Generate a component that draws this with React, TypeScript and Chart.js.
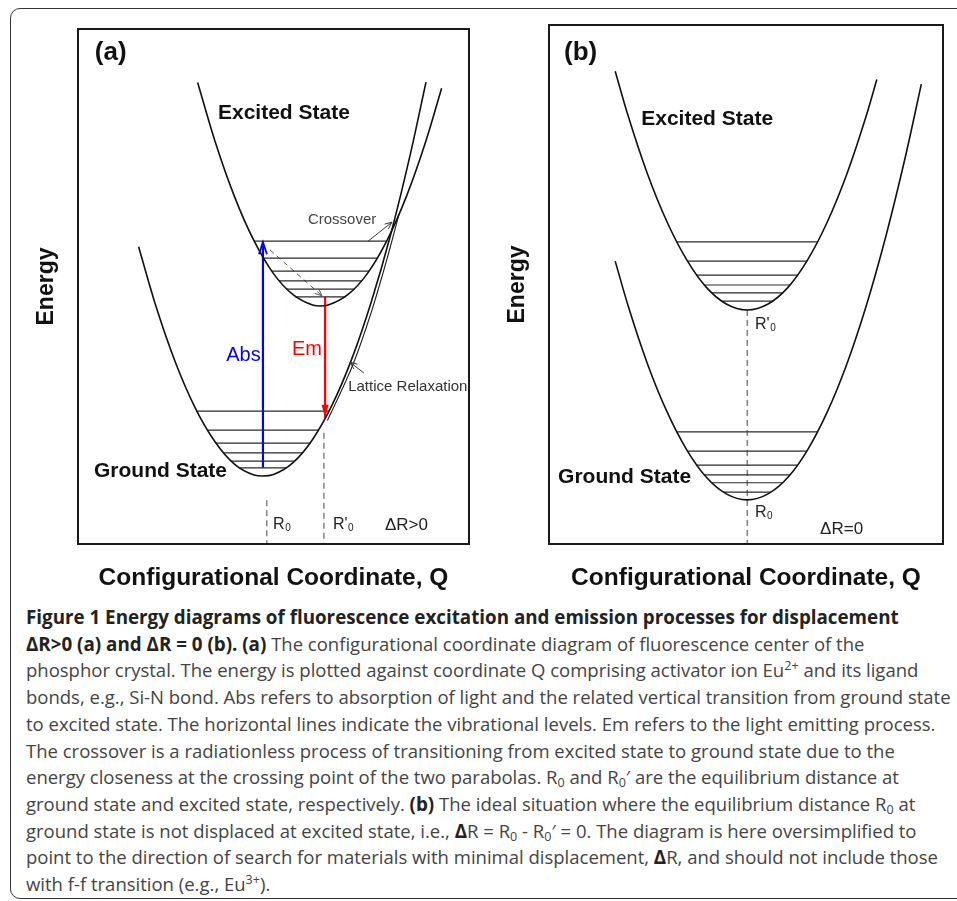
import React, { useEffect, useRef } from "react";
import { Chart, registerables } from "chart.js";

Chart.register(...registerables);

const FIG_FONT = '"Liberation Sans", Arial, Helvetica, sans-serif';
const CAPTION_FONT = '"Open Sans", "Noto Sans", sans-serif';

// ---------- Panel (a): displaced parabolas, ΔR > 0 ----------
const groundAQ = [1.55, 2.0, 2.5, 3.0, 3.5, 4.0, 4.5, 4.73, 5.0, 5.5, 6.0, 6.5, 7.0, 7.5, 8.0, 8.5, 8.9];
const groundAE = [5.77, 4.6, 3.51, 2.64, 1.99, 1.55, 1.34, 1.32, 1.35, 1.58, 2.03, 2.7, 3.59, 4.7, 6.02, 7.57, 8.97];
const excitedAQ = [3.06, 3.5, 4.0, 4.5, 5.0, 5.5, 6.0, 6.2, 6.4, 6.9, 7.4, 7.9, 8.4, 8.9, 9.3];
const excitedAE = [8.96, 7.83, 6.75, 5.89, 5.25, 4.84, 4.64, 4.62, 4.64, 4.84, 5.25, 5.89, 6.75, 7.83, 8.85];
const latticeAQ = [6.38, 7.04, 7.5, 7.89, 8.21];
const latticeAE = [2.4, 3.5, 4.5, 5.5, 6.4];

const excitedLevelsA = [5.88, 5.55, 5.3, 5.11, 4.95, 4.8];
const excitedLevelsALeft = [4.51, 4.75, 4.96, 5.14, 5.33, 5.56];
const excitedLevelsARight = [7.89, 7.65, 7.44, 7.26, 7.07, 6.84];
const groundLevelsA = [2.58, 2.21, 1.96, 1.77, 1.61, 1.48];
const groundLevelsALeft = [3.04, 3.31, 3.52, 3.72, 3.92, 4.13];
const groundLevelsARight = [6.42, 6.15, 5.94, 5.74, 5.54, 5.33];

// transitions: [Q, E start, E end]
const absorptionA = [4.73, 1.48, 5.86];
const emissionA = [6.32, 4.8, 2.45];
const relaxQ = [4.91, 6.24];
const relaxE = [5.71, 4.82];
const r0A = [4.83, 0.85];
const r0PrimeA = [6.29, 2.16];

// ---------- Panel (b): undisplaced parabolas, ΔR = 0 ----------
const groundBQ = [1.68, 2.0, 2.5, 3.0, 3.5, 4.0, 4.5, 5.03, 5.56, 6.06, 6.56, 7.06, 7.56, 8.06, 8.56, 9.06, 9.45];
const groundBE = [5.45, 4.61, 3.47, 2.54, 1.81, 1.28, 0.965, 0.85, 0.965, 1.28, 1.81, 2.54, 3.47, 4.61, 5.96, 7.51, 8.86];
const excitedBQ = [1.68, 2.0, 2.5, 3.0, 3.5, 4.0, 4.5, 5.03, 5.56, 6.06, 6.56, 7.06, 7.56, 8.06, 8.32];
const excitedBE = [9.11, 8.27, 7.13, 6.2, 5.47, 4.94, 4.625, 4.51, 4.625, 4.94, 5.47, 6.2, 7.13, 8.27, 8.95];

const excitedLevelsB = [5.82, 5.45, 5.18, 4.99, 4.84, 4.68];
const excitedLevelsBLeft = [3.24, 3.52, 3.75, 3.95, 4.13, 4.39];
const excitedLevelsBRight = [6.82, 6.54, 6.31, 6.11, 5.93, 5.67];
const groundLevelsB = [2.16, 1.79, 1.52, 1.33, 1.18, 1.0];
const groundLevelsBLeft = [3.24, 3.52, 3.75, 3.95, 4.13, 4.43];
const groundLevelsBRight = [6.82, 6.54, 6.31, 6.11, 5.93, 5.63];
const r0B = [5.03, 4.51];

type XY = { x: number; y: number };
const pts = (qs: number[], es: number[]): XY[] => qs.map((q, i) => ({ x: q, y: es[i] }));

const curveStyle = {
  showLine: true,
  pointRadius: 0,
  borderColor: "#111",
  borderWidth: 1.6,
  cubicInterpolationMode: "monotone",
  fill: false,
};
const levelStyle = { showLine: true, pointRadius: 0, borderColor: "#2a2a2a", borderWidth: 1.2, tension: 0, fill: false };
const guideStyle = { showLine: true, pointRadius: 0, borderColor: "#444", borderWidth: 1, borderDash: [6, 4], tension: 0, fill: false };

const levelSets = (es: number[], lq: number[], rq: number[]) =>
  es.map((e, i) => ({ ...levelStyle, data: [{ x: lq[i], y: e }, { x: rq[i], y: e }] }));

interface TextMark {
  text: string;
  sub?: string;
  q: number;
  e: number;
  size: number;
  weight?: string;
  color?: string;
}

const framePlugin = {
  id: "frame",
  afterDraw(chart: any) {
    const { ctx, chartArea: a } = chart;
    ctx.save();
    ctx.strokeStyle = "#1a1a1a";
    ctx.lineWidth = 2;
    ctx.strokeRect(a.left, a.top, a.right - a.left, a.bottom - a.top);
    ctx.restore();
  },
};

// draws a head at the last point of any dataset carrying an `arrow` spec
const arrowPlugin = {
  id: "arrowHeads",
  afterDatasetsDraw(chart: any) {
    const ctx = chart.ctx;
    chart.data.datasets.forEach((ds: any, i: number) => {
      if (!ds.arrow) return;
      const meta = chart.getDatasetMeta(i);
      const n = meta.data.length;
      const p1 = meta.data[n - 2];
      const p2 = meta.data[n - 1];
      const ang = Math.atan2(p2.y - p1.y, p2.x - p1.x);
      const { len, half, filled } = ds.arrow;
      const bx = p2.x - len * Math.cos(ang);
      const by = p2.y - len * Math.sin(ang);
      const nx = -Math.sin(ang) * half;
      const ny = Math.cos(ang) * half;
      ctx.save();
      ctx.setLineDash([]);
      ctx.strokeStyle = ds.borderColor;
      ctx.fillStyle = ds.borderColor;
      ctx.lineWidth = ds.arrow.width ?? ds.borderWidth;
      ctx.beginPath();
      ctx.moveTo(bx + nx, by + ny);
      ctx.lineTo(p2.x, p2.y);
      ctx.lineTo(bx - nx, by - ny);
      if (filled) {
        ctx.closePath();
        ctx.fill();
      } else {
        ctx.stroke();
      }
      ctx.restore();
    });
  },
};

const makeLabelPlugin = (items: TextMark[]) => ({
  id: "textMarks",
  afterDatasetsDraw(chart: any) {
    const ctx = chart.ctx;
    const xs = chart.scales.x;
    const ys = chart.scales.y;
    ctx.save();
    ctx.textBaseline = "middle";
    ctx.textAlign = "left";
    items.forEach((t) => {
      const px = xs.getPixelForValue(t.q);
      const py = ys.getPixelForValue(t.e);
      ctx.font = `${t.weight || "normal"} ${t.size}px ${FIG_FONT}`;
      ctx.fillStyle = t.color || "#111";
      ctx.fillText(t.text, px, py);
      if (t.sub) {
        const w = ctx.measureText(t.text).width;
        ctx.font = `${Math.round(t.size * 0.62)}px ${FIG_FONT}`;
        ctx.fillText(t.sub, px + w + 0.5, py + t.size * 0.2);
      }
    });
    ctx.restore();
  },
});

interface PanelProps {
  left: number;
  width: number;
  height: number;
  padding: { left: number; right: number; top: number; bottom: number };
  datasets: any[];
  labels: TextMark[];
}

function Panel({ left, width, height, padding, datasets, labels }: PanelProps) {
  const ref = useRef<HTMLCanvasElement | null>(null);
  useEffect(() => {
    if (!ref.current) return;
    const chart = new Chart(ref.current, {
      type: "scatter",
      data: { datasets },
      options: {
        animation: false,
        responsive: false,
        devicePixelRatio: 1,
        events: [],
        layout: { padding },
        plugins: { legend: { display: false }, tooltip: { enabled: false } },
        scales: {
          x: {
            type: "linear",
            min: 0,
            max: 10,
            ticks: { display: false },
            grid: { display: false, drawTicks: false },
            border: { display: false },
            title: {
              display: true,
              text: "Configurational Coordinate, Q",
              color: "#111",
              font: { family: FIG_FONT, size: 24.5, weight: "bold" },
              padding: { top: 19.3, bottom: 0 },
            },
          },
          y: {
            type: "linear",
            min: 0,
            max: 10,
            ticks: { display: false },
            grid: { display: false, drawTicks: false },
            border: { display: false },
            title: {
              display: true,
              text: "Energy",
              color: "#111",
              font: { family: FIG_FONT, size: 23, weight: "bold" },
              padding: { top: 0, bottom: 17.2 },
            },
          },
        },
      } as any,
      plugins: [framePlugin, arrowPlugin, makeLabelPlugin(labels)],
    });
    return () => chart.destroy();
  }, []);
  return (
    <canvas
      ref={ref}
      width={width}
      height={height}
      style={{ position: "absolute", left, top: 0, width, height }}
    />
  );
}

const datasetsA = [
  { ...curveStyle, data: pts(groundAQ, groundAE) },
  { ...curveStyle, data: pts(excitedAQ, excitedAE) },
  { ...curveStyle, borderWidth: 1.1, borderColor: "#222", data: pts(latticeAQ, latticeAE) },
  ...levelSets(excitedLevelsA, excitedLevelsALeft, excitedLevelsARight),
  ...levelSets(groundLevelsA, groundLevelsALeft, groundLevelsARight),
  {
    showLine: true,
    pointRadius: 0,
    borderColor: "#0000ff",
    borderWidth: 2.2,
    data: [{ x: absorptionA[0], y: absorptionA[1] }, { x: absorptionA[0], y: absorptionA[2] }],
    arrow: { len: 12, half: 4, filled: false, width: 1.8 },
  },
  {
    showLine: true,
    pointRadius: 0,
    borderColor: "#ff0000",
    borderWidth: 2.2,
    data: [{ x: emissionA[0], y: emissionA[1] }, { x: emissionA[0], y: emissionA[2] }],
    arrow: { len: 13, half: 3.5, filled: true },
  },
  {
    ...guideStyle,
    borderColor: "#555",
    borderDash: [5, 4],
    data: pts(relaxQ, relaxE),
    arrow: { len: 7, half: 3, filled: false },
  },
  { ...guideStyle, data: [{ x: r0A[0], y: r0A[1] }, { x: r0A[0], y: 0 }] },
  { ...guideStyle, data: [{ x: r0PrimeA[0], y: r0PrimeA[1] }, { x: r0PrimeA[0], y: 0 }] },
  {
    showLine: true,
    pointRadius: 0,
    borderColor: "#333",
    borderWidth: 1,
    data: [{ x: 7.42, y: 5.88 }, { x: 8.03, y: 6.25 }],
    arrow: { len: 7, half: 3, filled: false },
  },
  {
    showLine: true,
    pointRadius: 0,
    borderColor: "#333",
    borderWidth: 1,
    data: [{ x: 7.31, y: 3.32 }, { x: 6.96, y: 3.53 }],
    arrow: { len: 7, half: 3, filled: false },
  },
];

const labelsA: TextMark[] = [
  { text: "(a)", q: 0.43, e: 9.53, size: 26, weight: "bold" },
  { text: "Excited State", q: 3.58, e: 8.37, size: 21, weight: "bold" },
  { text: "Ground State", q: 0.41, e: 1.42, size: 21, weight: "bold" },
  { text: "Crossover", q: 5.88, e: 6.29, size: 15, color: "#444" },
  { text: "Lattice Relaxation", q: 6.91, e: 3.05, size: 15, color: "#333" },
  { text: "Abs", q: 3.79, e: 3.67, size: 20, color: "#0000ff" },
  { text: "Em", q: 5.47, e: 3.77, size: 20, color: "#ff0000" },
  { text: "R", sub: "0", q: 4.99, e: 0.37, size: 16, color: "#222" },
  { text: "R'", sub: "0", q: 6.52, e: 0.37, size: 16, color: "#222" },
  { text: "ΔR>0", q: 7.85, e: 0.37, size: 17, color: "#222" },
];

const datasetsB = [
  { ...curveStyle, data: pts(groundBQ, groundBE) },
  { ...curveStyle, data: pts(excitedBQ, excitedBE) },
  ...levelSets(excitedLevelsB, excitedLevelsBLeft, excitedLevelsBRight),
  ...levelSets(groundLevelsB, groundLevelsBLeft, groundLevelsBRight),
  { ...guideStyle, data: [{ x: r0B[0], y: r0B[1] }, { x: r0B[0], y: 0 }] },
];

const labelsB: TextMark[] = [
  { text: "(b)", q: 0.38, e: 9.46, size: 26, weight: "bold" },
  { text: "Excited State", q: 2.34, e: 8.19, size: 21, weight: "bold" },
  { text: "Ground State", q: 0.23, e: 1.29, size: 21, weight: "bold" },
  { text: "R'", sub: "0", q: 5.23, e: 4.22, size: 16, color: "#222" },
  { text: "R", sub: "0", q: 5.23, e: 0.6, size: 16, color: "#222" },
  { text: "ΔR=0", q: 6.88, e: 0.29, size: 17, color: "#222" },
];

const sub = (s: string) => (
  <sub style={{ fontSize: "0.68em", lineHeight: 0, verticalAlign: "-0.25em" }}>{s}</sub>
);
const sup = (s: string) => (
  <sup style={{ fontSize: "0.68em", lineHeight: 0, verticalAlign: "0.55em" }}>{s}</sup>
);
const B = ({ children }: { children: React.ReactNode }) => (
  <b style={{ color: "#222", fontWeight: 700, fontSize: 18.8 }}>{children}</b>
);

export default function App() {
  return (
    <div
      style={{
        position: "fixed",
        left: 0,
        top: 0,
        width: 957,
        height: 901,
        overflow: "hidden",
        background: "#fff",
      }}
    >
      <div
        style={{
          position: "absolute",
          left: 10,
          top: 8,
          width: 1000,
          height: 891,
          border: "1.5px solid #333",
          borderRadius: 10,
          boxSizing: "border-box",
        }}
      />
      <Panel
        left={0}
        width={480}
        height={600}
        padding={{ left: 33.2, right: 11, top: 29, bottom: 7.3 }}
        datasets={datasetsA}
        labels={labelsA}
      />
      <Panel
        left={480}
        width={477}
        height={600}
        padding={{ left: 24.2, right: 14, top: 25, bottom: 7.3 }}
        datasets={datasetsB}
        labels={labelsB}
      />
      <div
        style={{
          position: "absolute",
          left: 26,
          top: 604,
          fontFamily: CAPTION_FONT,
          fontSize: 18.5,
          lineHeight: "26.7px",
          color: "#444",
          whiteSpace: "nowrap",
        }}
      >
        <div>
          <B>Figure 1 Energy diagrams of fluorescence excitation and emission processes for displacement</B>
        </div>
        <div>
          <B>ΔR&gt;0 (a) and ΔR = 0 (b). (a)</B> The configurational coordinate diagram of fluorescence center of the
        </div>
        <div>
          phosphor crystal. The energy is plotted against coordinate Q comprising activator ion Eu{sup("2+")} and its ligand
        </div>
        <div>
          bonds, e.g., Si-N bond. Abs refers to absorption of light and the related vertical transition from ground state
        </div>
        <div>to excited state. The horizontal lines indicate the vibrational levels. Em refers to the light emitting process.</div>
        <div>The crossover is a radiationless process of transitioning from excited state to ground state due to the</div>
        <div>
          energy closeness at the crossing point of the two parabolas. R{sub("0")} and R{sub("0")}′ are the equilibrium distance at
        </div>
        <div>
          ground state and excited state, respectively. <B>(b)</B> The ideal situation where the equilibrium distance R
          {sub("0")} at
        </div>
        <div>
          ground state is not displaced at excited state, i.e., <B>Δ</B>R = R{sub("0")} - R{sub("0")}′ = 0. The diagram is here
          oversimplified to
        </div>
        <div>
          point to the direction of search for materials with minimal displacement, <B>Δ</B>R, and should not include those
        </div>
        <div>with f-f transition (e.g., Eu{sup("3+")}).</div>
      </div>
    </div>
  );
}
